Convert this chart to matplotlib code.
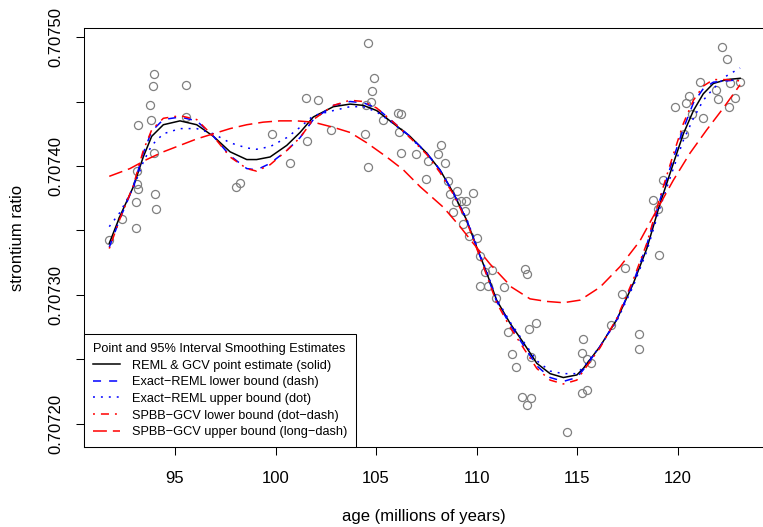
import numpy as np
import matplotlib
matplotlib.use("Agg")
import matplotlib.pyplot as plt

# ------------------------------
# Data: fossil shells, age vs strontium isotope ratio
# ------------------------------
age = [91.73, 92.35, 93.04, 93.06, 93.14, 93.09, 93.12, 93.16, 93.81, 93.77,
       93.89, 93.97, 93.96, 94.02, 94.05, 95.56, 95.55, 98.03, 98.23, 99.84,
       100.72, 101.50, 102.10, 101.57, 102.76, 104.59, 104.90, 104.80, 104.74, 104.49,
       105.36, 106.08, 106.23, 104.45, 106.14, 104.59, 106.23, 106.99, 107.60, 108.07,
       108.25, 108.45, 107.50, 108.60, 109.04, 108.70, 109.81, 108.97, 109.24, 109.46,
       108.82, 109.41, 109.34, 109.63, 110.01, 110.16, 110.42, 110.77, 110.16, 110.57,
       111.35, 110.96, 112.43, 112.51, 111.55, 112.61, 112.95, 111.77, 111.97, 112.73,
       112.28, 112.70, 112.53, 114.52, 115.31, 115.26, 115.50, 115.70, 115.26, 115.51,
       119.08, 117.40, 117.25, 116.68, 118.08, 118.08, 122.20, 122.48, 121.12, 121.92,
       122.63, 123.12, 122.01, 122.86, 122.56, 120.59, 120.42, 119.89, 120.71, 121.27,
       120.32, 119.28, 118.80, 119.01]
strontium = [0.707343, 0.707359, 0.707352, 0.707372, 0.707382, 0.707386, 0.707396, 0.707432, 0.707436, 0.707447,
             0.707462, 0.707471, 0.707410, 0.707378, 0.707367, 0.707463, 0.707438, 0.707384, 0.707387, 0.707425,
             0.707402, 0.707453, 0.707451, 0.707419, 0.707428, 0.707495, 0.707468, 0.707458, 0.707450, 0.707447,
             0.707436, 0.707441, 0.707440, 0.707425, 0.707426, 0.707399, 0.707410, 0.707409, 0.707404, 0.707409,
             0.707416, 0.707402, 0.707390, 0.707388, 0.707381, 0.707378, 0.707379, 0.707372, 0.707373, 0.707373,
             0.707364, 0.707365, 0.707355, 0.707346, 0.707344, 0.707330, 0.707318, 0.707319, 0.707307, 0.707307,
             0.707306, 0.707298, 0.707320, 0.707316, 0.707271, 0.707274, 0.707278, 0.707254, 0.707244, 0.707252,
             0.707221, 0.707220, 0.707215, 0.707194, 0.707266, 0.707255, 0.707250, 0.707247, 0.707224, 0.707226,
             0.707331, 0.707321, 0.707301, 0.707277, 0.707270, 0.707258, 0.707492, 0.707483, 0.707465, 0.707459,
             0.707464, 0.707465, 0.707452, 0.707453, 0.707446, 0.707454, 0.707449, 0.707446, 0.707440, 0.707437,
             0.707425, 0.707389, 0.707374, 0.707367]

fit_age = [91.73, 92.26, 92.93, 93.42, 93.84, 94.42, 95.25, 96.08, 96.91, 97.74,
           98.57, 99.06, 99.73, 100.56, 101.22, 101.88, 102.88, 103.71, 104.37, 105.03,
           105.86, 106.69, 107.52, 108.18, 108.85, 109.51, 110.01, 110.51, 111.00, 111.67,
           112.33, 113.00, 113.66, 114.32, 114.99, 115.31, 116.14, 116.98, 117.80, 118.47,
           119.13, 119.79, 120.29, 120.79, 121.28, 121.78, 122.45, 123.11]
fit_point = [0.707340, 0.707361, 0.707384, 0.707407, 0.707423, 0.707432, 0.707435, 0.707432, 0.707423, 0.707411,
             0.707405, 0.707405, 0.707407, 0.707416, 0.707426, 0.707438, 0.707446, 0.707448, 0.707447, 0.707443,
             0.707433, 0.707423, 0.707410, 0.707397, 0.707379, 0.707358, 0.707337, 0.707317, 0.707296, 0.707278,
             0.707263, 0.707247, 0.707239, 0.707236, 0.707238, 0.707243, 0.707260, 0.707281, 0.707309, 0.707336,
             0.707371, 0.707402, 0.707425, 0.707443, 0.707456, 0.707464, 0.707467, 0.707468]
reml_lower = [0.707337, 0.707359, 0.707384, 0.707410, 0.707427, 0.707436, 0.707438, 0.707435, 0.707423, 0.707408,
              0.707398, 0.707397, 0.707402, 0.707412, 0.707422, 0.707436, 0.707447, 0.707450, 0.707449, 0.707445,
              0.707434, 0.707423, 0.707410, 0.707397, 0.707379, 0.707358, 0.707337, 0.707316, 0.707295, 0.707277,
              0.707261, 0.707245, 0.707236, 0.707233, 0.707236, 0.707242, 0.707260, 0.707281, 0.707310, 0.707339,
              0.707374, 0.707406, 0.707429, 0.707449, 0.707460, 0.707465, 0.707466, 0.707467]
reml_upper = [0.707353, 0.707364, 0.707383, 0.707403, 0.707416, 0.707425, 0.707429, 0.707429, 0.707425, 0.707418,
              0.707414, 0.707413, 0.707415, 0.707422, 0.707430, 0.707439, 0.707443, 0.707446, 0.707446, 0.707442,
              0.707433, 0.707422, 0.707410, 0.707397, 0.707379, 0.707359, 0.707338, 0.707318, 0.707297, 0.707279,
              0.707264, 0.707249, 0.707241, 0.707239, 0.707239, 0.707244, 0.707260, 0.707280, 0.707307, 0.707334,
              0.707368, 0.707398, 0.707420, 0.707437, 0.707451, 0.707460, 0.707470, 0.707476]
gcv_lower = [0.707336, 0.707359, 0.707385, 0.707412, 0.707428, 0.707437, 0.707439, 0.707436, 0.707423, 0.707407,
             0.707398, 0.707396, 0.707401, 0.707412, 0.707422, 0.707436, 0.707447, 0.707451, 0.707450, 0.707445,
             0.707434, 0.707422, 0.707409, 0.707395, 0.707378, 0.707357, 0.707336, 0.707315, 0.707294, 0.707275,
             0.707259, 0.707243, 0.707234, 0.707231, 0.707234, 0.707241, 0.707259, 0.707282, 0.707312, 0.707340,
             0.707376, 0.707409, 0.707433, 0.707451, 0.707462, 0.707467, 0.707467, 0.707466]

# the wide SPBB-GCV upper bound, read on its own grid
gcv_upper_age = [91.73, 92.76, 93.59, 94.42, 95.25, 96.08, 96.91, 97.74, 98.57, 99.39,
                 100.22, 101.05, 101.88, 102.88, 103.71, 104.54, 105.53, 106.36, 107.19, 108.35,
                 109.18, 109.84, 110.67, 111.75, 112.66, 113.49, 114.32, 115.15, 116.14, 117.14,
                 118.13, 118.97, 119.79, 120.62, 121.45, 122.28, 123.11]
gcv_upper = [0.707392, 0.707398, 0.707405, 0.707411, 0.707416, 0.707421, 0.707425, 0.707429, 0.707432, 0.707434,
             0.707435, 0.707435, 0.707434, 0.707430, 0.707426, 0.707418, 0.707407, 0.707397, 0.707384, 0.707368,
             0.707353, 0.707340, 0.707324, 0.707306, 0.707297, 0.707295, 0.707294, 0.707296, 0.707306, 0.707322,
             0.707342, 0.707366, 0.707389, 0.707410, 0.707428, 0.707445, 0.707463]

xticks = [95, 100, 105, 110, 115, 120]
yticks = [0.70720, 0.70725, 0.70730, 0.70735, 0.70740, 0.70745, 0.70750]
yticklabels = ['0.70720', '', '0.70730', '', '0.70740', '', '0.70750']
legend_title = 'Point and 95% Interval Smoothing Estimates'
labels = ['REML & GCV point estimate (solid)',
          'Exact\u2212REML lower bound (dash)',
          'Exact\u2212REML upper bound (dot)',
          'SPBB\u2212GCV lower bound (dot\u2212dash)',
          'SPBB\u2212GCV upper bound (long\u2212dash)']

# ------------------------------
# Plot appearance
# ------------------------------
matplotlib.rcParams.update({'font.family': ['Liberation Sans', 'DejaVu Sans'],
                            'font.size': 12,
                            'lines.scale_dashes': False,
                            'axes.linewidth': 0.75})
fig = plt.figure(figsize=(7.63, 5.27), dpi=100)
ax = fig.add_axes([84 / 763, 79.7 / 527, 680 / 763, 419.3 / 527])
# the box runs past the right edge of the picture
ax.spines['right'].set_visible(False)

ax.plot(age, strontium, ls='none', marker='o', ms=5.8, mfc='none',
        mec='#7f7f7f', mew=0.9)
lw = 1.1
ax.plot(fit_age, fit_point, color='black', lw=lw, label=labels[0])
ax.plot(fit_age, reml_lower, color='blue', lw=lw, dashes=(5.8, 5.8),
        label=labels[1])
ax.plot(fit_age, reml_upper, color='blue', lw=lw, dashes=(1.4, 4.3),
        label=labels[2])
ax.plot(fit_age, gcv_lower, color='red', lw=lw, dashes=(1.4, 4.3, 5.8, 4.3),
        label=labels[3])
ax.plot(gcv_upper_age, gcv_upper, color='red', lw=lw, dashes=(10, 4.3),
        label=labels[4])

# ------------------------------
# Axes decoration
# ------------------------------
ax.set_xlim(90.473, 124.30)
ax.set_ylim(0.7071819, 0.7075070)
ax.set_xticks(xticks)
ax.set_xticklabels([str(t) for t in xticks])
ax.set_yticks(yticks)
ax.set_yticklabels(yticklabels)
ax.tick_params(direction='out', length=6.1, width=0.75, labelsize=12,
               color='black')
ax.tick_params(axis='x', pad=10.8)
ax.tick_params(axis='y', pad=8.6)
plt.setp(ax.get_yticklabels(), rotation=90, va='center')

fig.text(424 / 763, 1 - 516 / 527, 'age (millions of years)', ha='center',
         va='center', fontsize=12)
fig.text(18 / 763, 1 - 237.5 / 527, 'strontium ratio', ha='center',
         va='center', rotation=90, fontsize=12)

leg = ax.legend(loc='lower left', bbox_to_anchor=(0, 0), borderaxespad=0,
                title=legend_title, fontsize=9.2, title_fontsize=9.2,
                alignment='left', fancybox=False, framealpha=1,
                edgecolor='black', handlelength=2.1, handletextpad=0.9,
                labelspacing=0.36, borderpad=0.72)
leg.get_frame().set_linewidth(0.75)

fig.savefig('out.png', dpi=100)
plt.close('all')
